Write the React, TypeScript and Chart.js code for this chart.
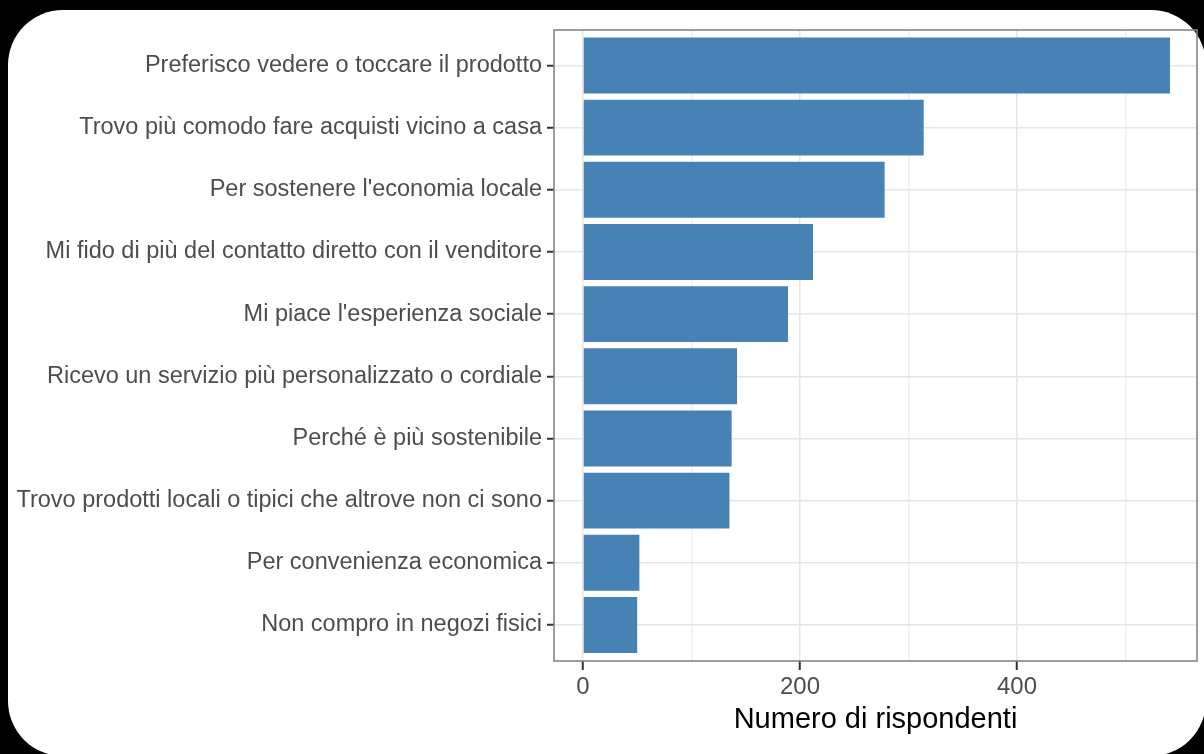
import React, { useEffect, useRef } from 'react';
import { Chart, registerables } from 'chart.js';

Chart.register(...registerables);

const categories = [
  'Preferisco vedere o toccare il prodotto',
  'Trovo più comodo fare acquisti vicino a casa',
  "Per sostenere l'economia locale",
  'Mi fido di più del contatto diretto con il venditore',
  "Mi piace l'esperienza sociale",
  'Ricevo un servizio più personalizzato o cordiale',
  'Perché è più sostenibile',
  'Trovo prodotti locali o tipici che altrove non ci sono',
  'Per convenienza economica',
  'Non compro in negozi fisici',
];

const respondents = [541, 314, 278, 212, 189, 142, 137, 135, 52, 50];

const xGridValues = [0, 100, 200, 300, 400, 500];
const xLabelValues = [0, 200, 400];
const xAxisTitle = 'Numero di rispondenti';

const FONT = '"Liberation Sans", Arial, Helvetica, sans-serif';

const borderPlugin = {
  id: 'panelBorder',
  afterDatasetsDraw(chart: any) {
    const { ctx, chartArea } = chart;
    ctx.save();
    ctx.strokeStyle = '#858585';
    ctx.lineWidth = 1.6;
    ctx.strokeRect(chartArea.left, chartArea.top, chartArea.right - chartArea.left, chartArea.bottom - chartArea.top);
    ctx.restore();
  },
};

export default function App() {
  const ref = useRef<HTMLCanvasElement>(null);

  useEffect(() => {
    const chart = new Chart(ref.current as HTMLCanvasElement, {
      type: 'bar',
      data: {
        datasets: [
          {
            data: respondents.map((v, i) => ({ x: v, y: i })) as any,
            backgroundColor: '#4682B4',
            borderWidth: 0,
            categoryPercentage: 0.9,
            barPercentage: 1,
          },
        ],
      },
      options: {
        indexAxis: 'y',
        responsive: false,
        animation: false,
        layout: { padding: { left: 8, top: 30, right: 7, bottom: 0 } },
        plugins: {
          legend: { display: false },
          tooltip: { enabled: false },
          title: { display: false },
        },
        scales: {
          x: {
            type: 'linear',
            min: -26.7,
            max: 565.9,
            afterBuildTicks: (axis: any) => {
              axis.ticks = xGridValues.map((v) => ({ value: v }));
            },
            afterFit: (axis: any) => {
              axis.height = 93;
            },
            border: { display: false },
            grid: {
              color: (c: any) => (xLabelValues.includes(c.tick?.value) ? '#e6e6e6' : '#f0f0f0'),
              lineWidth: 1.5,
              tickColor: (c: any) => (xLabelValues.includes(c.tick?.value) ? '#333333' : 'rgba(0,0,0,0)'),
              tickLength: 9,
              tickWidth: 2,
            },
            ticks: {
              autoSkip: false,
              maxRotation: 0,
              padding: 3,
              color: '#4d4d4d',
              font: { family: FONT, size: 24 },
              callback: (v: any) => (xLabelValues.includes(Number(v)) ? String(v) : ''),
            },
            title: {
              display: true,
              text: xAxisTitle,
              color: '#000000',
              font: { family: FONT, size: 29 },
              padding: { top: 0, bottom: 17 },
            },
          },
          y: {
            type: 'linear',
            reverse: true,
            offset: false,
            min: -0.57,
            max: 9.58,
            afterBuildTicks: (axis: any) => {
              axis.ticks = categories.map((_, i) => ({ value: i }));
            },
            afterFit: (axis: any) => {
              axis.width = 546;
            },
            border: { display: false },
            grid: {
              offset: false,
              color: '#e6e6e6',
              lineWidth: 1.5,
              tickColor: '#333333',
              tickLength: 7,
              tickWidth: 2,
            },
            ticks: {
              autoSkip: false,
              padding: 5,
              color: '#4d4d4d',
              font: { family: FONT, size: 23.5 },
              callback: (v: any) => categories[Number(v)] ?? '',
            },
          },
        },
      },
      plugins: [borderPlugin],
    } as any);
    return () => chart.destroy();
  }, []);

  return (
    <div style={{ position: 'fixed', inset: 0, background: '#000', overflow: 'hidden' }}>
      <div
        style={{
          position: 'absolute',
          left: 8,
          top: 10,
          width: 1198,
          height: 746,
          background: '#fff',
          borderRadius: 55,
        }}
      />
      <canvas
        ref={ref}
        width={1204}
        height={754}
        style={{ position: 'absolute', left: 0, top: 0, display: 'block' }}
      />
    </div>
  );
}
